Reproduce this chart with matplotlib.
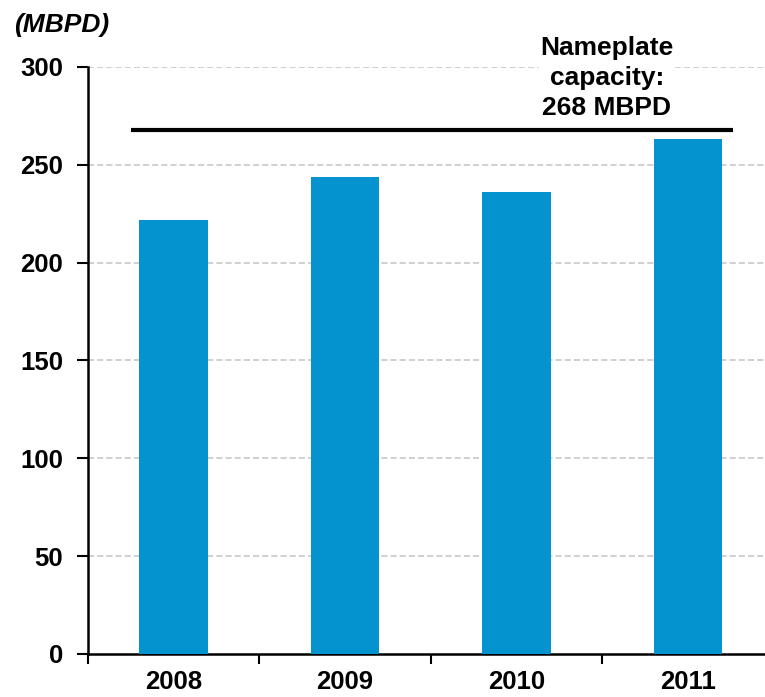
import matplotlib
matplotlib.use("Agg")
import matplotlib.pyplot as plt
import numpy as np

years = ["2008", "2009", "2010", "2011"]
values = [222, 244, 236, 263]
capacity = 268
yticks = [0, 50, 100, 150, 200, 250, 300]

plt.rcParams['font.family'] = ['Liberation Sans', 'DejaVu Sans']

fig = plt.figure(figsize=(7.65, 6.97), dpi=100)
ax = fig.add_axes([0.115, 0.0617, 0.885, 0.8422])

x = np.arange(len(years))
ax.bar(x, values, width=0.40, color='#0593d0', zorder=3)
ax.hlines(capacity, -0.25, 3.265, colors='black', linewidth=3, zorder=4)

ax.set_xlim(-0.5, 3.45)
ax.set_ylim(0, 300)
ax.set_yticks(yticks)
ax.set_yticklabels([str(v) for v in yticks], fontsize=18.5, fontweight='bold')
for v in yticks[1:]:
    ax.axhline(v, color='#c4c4c4', linewidth=1.1, linestyle=(0, (4, 2)), zorder=1)

ax.set_xticks(np.arange(-0.5, 3.5, 1.0))
ax.set_xticklabels([])
ax.set_xticks(x, minor=True)
ax.set_xticklabels(years, minor=True, fontsize=18.5, fontweight='bold')
ax.tick_params(axis='x', which='minor', length=0, pad=11.5)
ax.tick_params(axis='x', which='major', length=7, width=1.5, direction='out')
ax.tick_params(axis='y', length=8, width=1.5, direction='out', pad=10)

for s in ['top', 'right']:
    ax.spines[s].set_visible(False)
for s in ['left', 'bottom']:
    ax.spines[s].set_linewidth(1.8)

ax.text(2.528, 294.3, "Nameplate\ncapacity:\n268 MBPD", ha='center', va='center',
        fontsize=19, fontweight='bold', linespacing=1.32, zorder=5,
        bbox=dict(facecolor='white', edgecolor='none', pad=1))
fig.text(0.018, 0.964, "(MBPD)", ha='left', va='center', fontsize=19,
         fontweight='bold', fontstyle='italic')

fig.savefig("out.png", dpi=100)
